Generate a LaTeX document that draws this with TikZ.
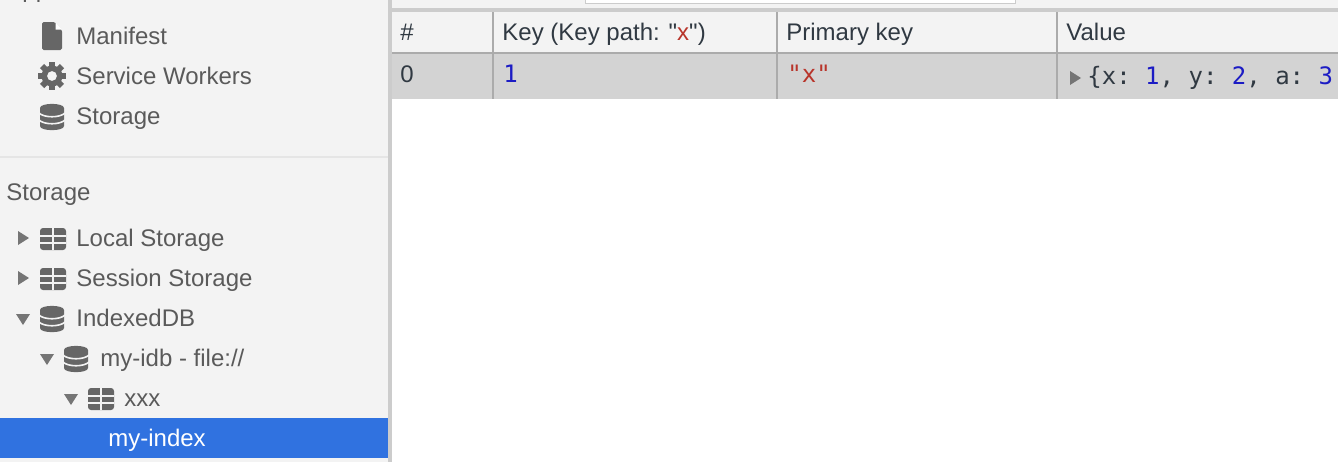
\documentclass[tikz,border=0pt]{standalone}
\usepackage{fontspec}
\setmainfont[Ligatures=TeXOff]{Liberation Sans}
\setmonofont{DejaVu Sans Mono}
\usetikzlibrary{positioning}
\definecolor{panel}{HTML}{F3F3F3}
\definecolor{rule}{HTML}{CCCCCC}
\definecolor{cellrule}{HTML}{ABABAB}
\definecolor{rowgrey}{HTML}{D3D3D3}
\definecolor{selblue}{HTML}{3072E0}
\definecolor{side}{HTML}{5A5A5A}
\definecolor{icon}{HTML}{666666}
\definecolor{ink}{HTML}{303942}
\definecolor{strred}{HTML}{B8342A}
\definecolor{numblue}{HTML}{1C1CC4}
\tikzset{
  dbicon/.pic={
    \fill[icon] (-12,-9) .. controls (-12,-14.5) and (12,-14.5) .. (12,-9)
      -- (12,9) .. controls (12,14.5) and (-12,14.5) .. (-12,9) -- cycle;
    \draw[panel,line width=0.8pt] (-13,-4) .. controls (-8,1) and (8,1) .. (13,-4);
    \draw[panel,line width=0.8pt] (-13,3) .. controls (-8,8) and (8,8) .. (13,3);
  },
  gridicon/.pic={
    \fill[icon,rounded corners=1.5] (-13,-11) rectangle (13,11);
    \draw[panel,line width=0.9pt] (0,-11) -- (0,11) (-13,-3) -- (13,-3) (-13,4) -- (13,4);
  },
  pageicon/.pic={
    \fill[icon,rounded corners=0.8] (-10,-14) -- (3,-14) -- (10,-6) -- (10,14) -- (-10,14) -- cycle;
    \fill[white] (3.5,-14) -- (3.5,-6.5) -- (10,-6.5) -- cycle;
  },
  gearicon/.pic={
    \foreach \ang in {0,45,...,315}
      \draw[icon,line width=3pt] (\ang:7) -- (\ang:14);
    \fill[icon,even odd rule] (0,0) circle (10.5) (0,0) circle (5);
  },
  tright/.pic={\fill[icon!90!white] (-5,-7) -- (6,0) -- (-5,7) -- cycle;},
  tdown/.pic={\fill[icon!90!white] (-7,-5) -- (7,-5) -- (0,6) -- cycle;}
}
\begin{document}
\begin{tikzpicture}[x=0.5pt,y=-0.5pt,font=\fontsize{12}{14}\selectfont,
    lbl/.style={anchor=base west,inner sep=0pt,text=side},
    cell/.style={anchor=base west,inner sep=0pt,text=ink},
    code/.style={anchor=base west,inner sep=0pt,font=\fontsize{12}{14}\selectfont\ttfamily}]
  \useasboundingbox (0,0) rectangle (1338,462);
  \clip (0,0) rectangle (1338,462);
  \fill[panel] (0,0) rectangle (388,462);
  \fill[rule] (388,0) rectangle (392,462);
  \fill[panel] (392,0) rectangle (1338,8);
  \fill[white,draw=rule] (585,-4) rectangle (1015,3);
  \fill[rule] (392,8) rectangle (1338,12);
  \fill[panel] (392,12) rectangle (1338,52);
  \fill[rowgrey] (392,54) rectangle (1338,99);
  \fill[cellrule] (392,52) rectangle (1338,54);
  \foreach \cx in {493,777,1057}
    \fill[cellrule] (\cx-1,12) rectangle (\cx+1,99);
  \fill[black!10] (0,156) rectangle (388,158);
  \fill[selblue] (0,418) rectangle (388,458);

  \node[lbl] (app) at (6,-3) {Application};
  \node[lbl] (man) at (76,44) {Manifest};
  \node[lbl] (sw) at (76,84) {Service Workers};
  \node[lbl] (sto) at (76,124) {Storage};
  \node[lbl] (head) at (6,200) {Storage};
  \node[lbl] (loc) at (76,246) {Local Storage};
  \node[lbl] (ses) at (76,286) {Session Storage};
  \node[lbl] (idb) at (76,326) {IndexedDB};
  \node[lbl] (myidb) at (100,366) {my-idb - file://};
  \node[lbl] (xxx) at (124,406) {xxx};
  \node[lbl,text=white] (myidx) at (108,446) {my-index};

  \pic at (52,36) {pageicon};
  \pic at (52,76) {gearicon};
  \pic at (52,117) {dbicon};
  \pic at (53,239) {gridicon};
  \pic at (53,279) {gridicon};
  \pic at (52,319) {dbicon};
  \pic at (76,359) {dbicon};
  \pic at (101,399) {gridicon};
  \pic at (23,238) {tright};
  \pic at (23,278) {tright};
  \pic at (23,319) {tdown};
  \pic at (47,359) {tdown};
  \pic at (71,399) {tdown};

  \node[cell] (hnum) at (400,40) {\#};
  \node[cell] (hkey) at (502,40) {Key (Key path: "\textcolor{strred}{x}")};
  \node[cell] (hprim) at (786,40) {Primary key};
  \node[cell] (hval) at (1066,40) {Value};
  \node[cell] (rnum) at (400,82) {0};
  \node[code,text=numblue] (rkey) at (503,82) {1};
  \node[code,text=strred] (rprim) at (787,82) {"x"};
  \pic at (1075,78) {tright};
  \node[code,text=ink,anchor=base west] (rval) at (1087,84)
    {\{x: \textcolor{numblue}{1}, y: \textcolor{numblue}{2}, a: \textcolor{numblue}{3}};
\end{tikzpicture}
\end{document}
